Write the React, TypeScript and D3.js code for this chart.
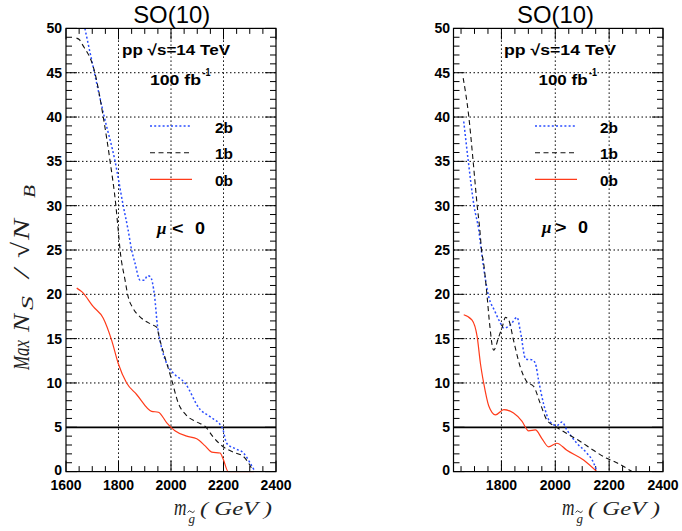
import React from "react";
import * as d3 from "d3";

// ---------- data (gluino mass GeV, max significance) ----------
const left2b: [number, number][] = [
  [1672, 50], [1746, 40], [1787, 35], [1818, 30], [1837, 27.2], [1850, 25], [1863, 23.5],
  [1882, 21.6], [1899, 21.6], [1910, 22.1], [1921, 22.0], [1937, 19.9], [1949, 16.3],
  [1958, 14.8], [1990, 11.8], [2009, 11.1], [2053, 10.0], [2111, 7.0], [2149, 6.2],
  [2196, 4.9], [2212, 3.2], [2244, 2.6], [2276, 2.1], [2301, 1.0], [2320, 0],
];
const left1b: [number, number][] = [
  [1640, 48.9], [1652, 48.7], [1660, 48.3], [1710, 45], [1742, 40], [1768, 35], [1790, 30],
  [1799, 27.2], [1806, 25], [1825, 21.6], [1837, 19.7], [1856, 18.4], [1888, 17.3],
  [1926, 16.6], [1945, 16.3], [1958, 14.8], [1984, 12.2], [2003, 10.3], [2028, 7.7],
  [2057, 6.4], [2098, 5.6], [2130, 5.1], [2161, 3.9], [2199, 2.8], [2237, 2.2], [2276, 1.7],
  [2314, 0],
];
const left0b: [number, number][] = [
  [1641, 20.7], [1660, 20.3], [1704, 18.6], [1742, 17.3], [1774, 14.8], [1799, 12.2],
  [1831, 10.0], [1869, 8.7], [1926, 6.8], [1952, 6.7], [1984, 5.5], [2015, 4.6],
  [2060, 4.0], [2098, 3.7], [2130, 2.9], [2155, 2.2], [2187, 2.1], [2199, 1.4],
  [2218, 0], [2315, 0],
];
const right2b: [number, number][] = [
  [1660, 39.5], [1677, 35], [1698, 30], [1716, 27.2], [1725, 25], [1741, 21.6], [1753, 19.7],
  [1774, 18.2], [1794, 16.9], [1809, 16.2], [1832, 16.5], [1858, 17.4], [1870, 15.9],
  [1890, 12.7], [1915, 12.6], [1926, 12.2], [1938, 10.3], [1956, 7.7], [1981, 5.6],
  [2006, 5.2], [2025, 5.6], [2043, 4.7], [2080, 3.2], [2117, 2.1], [2142, 1.0], [2154, 0],
];
const right1b: [number, number][] = [
  [1658, 44.4], [1679, 40], [1695, 35], [1710, 30], [1720, 27.2], [1726, 25], [1734, 23.5],
  [1747, 19.7], [1756, 16.7], [1771, 13.7], [1790, 15.2], [1803, 16.3], [1815, 17.4],
  [1827, 17.1], [1845, 14.8], [1870, 11.8], [1895, 10.1], [1920, 9.6], [1944, 7.7],
  [1969, 5.8], [2000, 5.1], [2043, 4.3], [2093, 3.4], [2142, 2.4], [2191, 1.5],
  [2228, 1.0], [2285, 0],
];
const right0b: [number, number][] = [
  [1660, 17.7], [1691, 17.1], [1710, 15.2], [1722, 12.2], [1734, 10.0], [1753, 7.4],
  [1778, 6.4], [1809, 7.0], [1845, 6.6], [1876, 5.7], [1901, 4.6], [1926, 4.7],
  [1951, 3.7], [1975, 2.8], [2006, 3.2], [2043, 2.4], [2105, 1.3], [2154, 0],
];

const yTickValues = [0, 5, 10, 15, 20, 25, 30, 35, 40, 45, 50];
const leftXTicks = [1600, 1800, 2000, 2200, 2400];
const rightXTicks = [1800, 2000, 2200, 2400];
const seriesNames = ["2b", "1b", "0b"];
const titleText = "SO(10)";
const energyText = "pp  \u221As=14 TeV";
const lumiText = "100 fb";

// ---------- styles ----------
const SANS = "'Liberation Sans', Arial, Helvetica, sans-serif";
const SERIF = "'Liberation Serif', 'Times New Roman', serif";
const styles: Record<string, { stroke: string; dash?: string; width: number }> = {
  "2b": { stroke: "#2a4dff", dash: "2,2.2", width: 1.5 },
  "1b": { stroke: "#111", dash: "5,3.5", width: 1.1 },
  "0b": { stroke: "#ff3b1a", width: 1.2 },
};

const TOP = 28.4;
const BOTTOM = 471.6;

type PanelCfg = {
  id: string;
  x0: number;
  x1: number;
  domain: [number, number];
  xTicks: number[];
  series: [number, number][][];
  dx: number;
  energy: [number, number];
  lumi: [number, number];
  legendLine: [number, number];
  legendLabelX: number;
  mu: { mu: number; op: number; zero: number; base: number; sym: string };
  titleX: number;
  yLabelRight: number;
};

const panels: PanelCfg[] = [
  {
    id: "L", x0: 66, x1: 276, domain: [1600, 2400], xTicks: leftXTicks,
    series: [left2b, left1b, left0b], dx: 0,
    energy: [122, 108], lumi: [150, 51], legendLine: [150, 192], legendLabelX: 215,
    mu: { mu: 157, op: 172, zero: 195, base: 234, sym: "<" }, titleX: 171.7, yLabelRight: 62,
  },
  {
    id: "R", x0: 453.5, x1: 663, domain: [1622, 2400], xTicks: rightXTicks,
    series: [right2b, right1b, right0b], dx: 388,
    energy: [504, 112], lumi: [538.5, 49], legendLine: [535, 577], legendLabelX: 600,
    mu: { mu: 542, op: 555, zero: 578, base: 233, sym: ">" }, titleX: 555.5, yLabelRight: 450,
  },
];

function Panel({ p }: { p: PanelCfg }) {
  const x = d3.scaleLinear().domain(p.domain).range([p.x0, p.x1]);
  const y = d3.scaleLinear().domain([0, 50]).range([BOTTOM, TOP]);
  const line = d3
    .line<[number, number]>()
    .x((d) => x(d[0]))
    .y((d) => y(d[1]))
    .curve(d3.curveMonotoneX);

  const minorX: number[] = [];
  for (let m = Math.ceil(p.domain[0] / 50) * 50; m <= p.domain[1]; m += 50) minorX.push(m);
  const minorY = d3.range(0, 51, 1);
  const clipId = "clip" + p.id;
  const legendY = [126, 152.7, 179.3];
  const tx = 187.5 + p.dx;

  return (
    <g>
      <defs>
        <clipPath id={clipId}>
          <rect x={p.x0} y={TOP - 1} width={p.x1 - p.x0} height={BOTTOM - TOP + 2} />
        </clipPath>
      </defs>
      {/* grid */}
      {p.xTicks.filter((t) => t > p.domain[0] && t < p.domain[1]).map((t) => (
        <line key={"gx" + t} x1={x(t)} x2={x(t)} y1={TOP} y2={BOTTOM}
          stroke="#000" strokeWidth={1} strokeDasharray="1.5,2.5" />
      ))}
      {yTickValues.filter((v) => v > 5 && v < 50).map((v) => (
        <line key={"gy" + v} x1={p.x0} x2={p.x1} y1={y(v)} y2={y(v)}
          stroke="#000" strokeWidth={1} strokeDasharray="1.5,2.5" />
      ))}
      {/* significance 5 line */}
      <line x1={p.x0} x2={p.x1} y1={y(5)} y2={y(5)} stroke="#000" strokeWidth={1.8} />
      {/* ticks */}
      {minorX.map((m) => {
        const major = m % 200 === 0;
        const len = major ? 11 : 5.5;
        return (
          <g key={"tx" + m}>
            <line x1={x(m)} x2={x(m)} y1={BOTTOM} y2={BOTTOM - len} stroke="#000" strokeWidth={1} />
            <line x1={x(m)} x2={x(m)} y1={TOP} y2={TOP + len} stroke="#000" strokeWidth={1} />
          </g>
        );
      })}
      {minorY.map((v) => {
        const major = v % 5 === 0;
        const len = major ? 11 : 6;
        return (
          <g key={"ty" + v}>
            <line x1={p.x0} x2={p.x0 + len} y1={y(v)} y2={y(v)} stroke="#000" strokeWidth={1} />
            <line x1={p.x1} x2={p.x1 - len} y1={y(v)} y2={y(v)} stroke="#000" strokeWidth={1} />
          </g>
        );
      })}
      {/* curves */}
      <g clipPath={`url(#${clipId})`}>
        {p.series.map((s, i) => {
          const st = styles[seriesNames[i]];
          return (
            <path key={"s" + i} d={line(s) || ""} fill="none" stroke={st.stroke}
              strokeWidth={st.width} strokeDasharray={st.dash} />
          );
        })}
      </g>
      {/* frame */}
      <rect x={p.x0} y={TOP} width={p.x1 - p.x0} height={BOTTOM - TOP} fill="none" stroke="#000" strokeWidth={1.2} />
      {/* tick labels */}
      {yTickValues.map((v) => (
        <text key={"yl" + v} x={p.yLabelRight} y={y(v) + (v === 0 ? 3.5 : 5)} textAnchor="end"
          fontFamily={SANS} fontWeight="bold" fontSize={14}>{v}</text>
      ))}
      {p.xTicks.map((t) => (
        <text key={"xl" + t} x={x(t)} y={490} textAnchor="middle"
          fontFamily={SANS} fontWeight="bold" fontSize={14}>{t}</text>
      ))}
      {/* title */}
      <text x={p.titleX} y={23} textAnchor="middle" fontFamily={SANS} fontSize={24}
        textLength={77} lengthAdjust="spacingAndGlyphs">{titleText}</text>
      {/* annotations */}
      <text x={p.energy[0]} y={55} fontFamily={SANS} fontWeight="bold" fontSize={15}
        textLength={p.energy[1]} lengthAdjust="spacingAndGlyphs">{energyText}</text>
      <text x={p.lumi[0]} y={85} fontFamily={SANS} fontWeight="bold" fontSize={15}
        textLength={p.lumi[1]} lengthAdjust="spacingAndGlyphs">{lumiText}</text>
      <text x={p.lumi[0] + p.lumi[1] + 1.5} y={75.5} fontFamily={SANS} fontWeight="bold" fontSize={10}
        textLength={8} lengthAdjust="spacingAndGlyphs">-1</text>
      {/* legend */}
      {seriesNames.map((n, i) => {
        const st = styles[n];
        return (
          <g key={"lg" + n}>
            <line x1={p.legendLine[0]} x2={p.legendLine[1]} y1={legendY[i]} y2={legendY[i]}
              stroke={st.stroke} strokeWidth={st.width} strokeDasharray={st.dash} />
            <text x={p.legendLabelX} y={legendY[i] + 6.5} fontFamily={SANS} fontWeight="bold"
              fontSize={15} textLength={18} lengthAdjust="spacingAndGlyphs">{n}</text>
          </g>
        );
      })}
      {/* mu sign */}
      <text x={p.mu.mu} y={p.mu.base} fontFamily={SERIF} fontStyle="italic" fontWeight="bold" fontSize={17}>μ</text>
      <text x={p.mu.op} y={p.mu.base} fontFamily={SANS} fontWeight="bold" fontSize={16}
        textLength={11.5} lengthAdjust="spacingAndGlyphs">{p.mu.sym}</text>
      <text x={p.mu.zero} y={p.mu.base} fontFamily={SANS} fontWeight="bold" fontSize={16}
        textLength={10} lengthAdjust="spacingAndGlyphs">0</text>
      {/* x axis title */}
      <text x={174 + p.dx} y={515} fontSize={24} fontFamily={SERIF} fontStyle="italic" fill="#222">
        <tspan textLength={12.5} lengthAdjust="spacingAndGlyphs">m</tspan>
        <tspan x={188.5 + p.dx} y={523} fontSize={13}>g</tspan>
        <tspan x={200 + p.dx} y={515} fontSize={19} textLength={72} lengthAdjust="spacingAndGlyphs">( GeV )</tspan>
      </text>
      <path d={`M${tx},512.5 q1.8,-3 3.6,-0.8 t3.6,-0.8`} fill="none" stroke="#222" strokeWidth={0.9} />
    </g>
  );
}

function RotText(props: { bx: number; y0: number; y1: number; size: number; text: string }) {
  return (
    <text transform={`translate(${props.bx},${props.y0}) rotate(-90)`} fontFamily={SERIF}
      fontStyle="italic" fontSize={props.size} fill="#222"
      textLength={props.y0 - props.y1} lengthAdjust="spacingAndGlyphs">{props.text}</text>
  );
}

export default function App() {
  return (
    <svg width={682} height={531} style={{ position: "absolute", left: 0, top: 0, background: "#fff" }}>
      <rect width={682} height={531} fill="#fff" />
      {panels.map((p) => (
        <Panel key={p.id} p={p} />
      ))}
      {/* y axis title: Max N_S / sqrt(N_B) */}
      <RotText bx={28.5} y0={370} y1={340} size={24} text="Max" />
      <RotText bx={28.5} y0={332} y1={314} size={24} text="N" />
      <RotText bx={33} y0={310} y1={296} size={16} text="S" />
      <RotText bx={28.5} y0={278} y1={269} size={24} text="/" />
      <RotText bx={29} y0={258} y1={242} size={24} text={"\u221A"} />
      <RotText bx={28.5} y0={240} y1={219} size={24} text="N" />
      <RotText bx={35} y0={198} y1={185} size={16} text="B" />
    </svg>
  );
}
